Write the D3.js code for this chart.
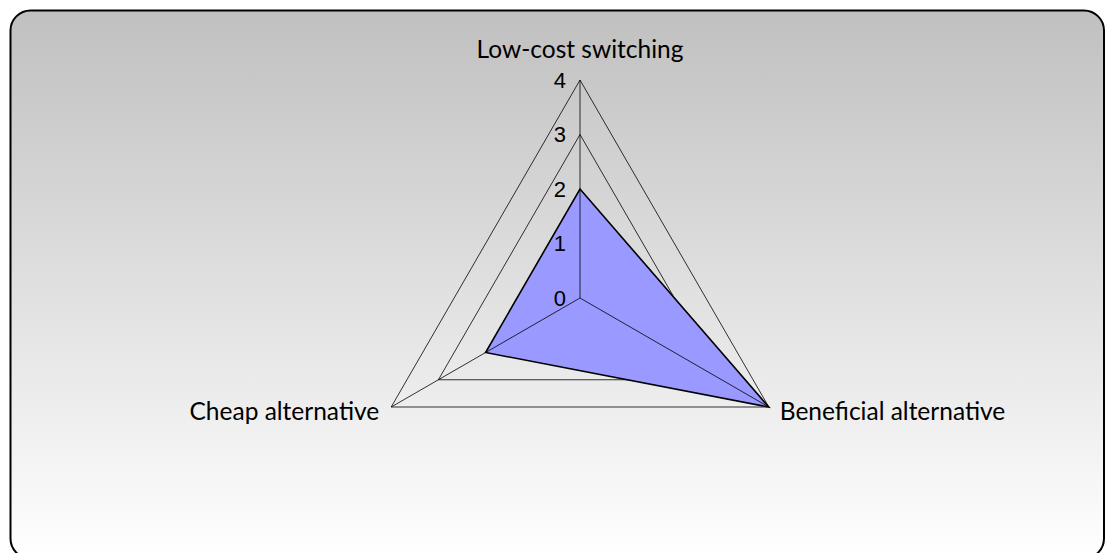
<!DOCTYPE html>
<html>
<head>
<meta charset="utf-8">
<script src="https://cdn.jsdelivr.net/npm/d3@7"></script>
<style>
  body { margin: 0; background: #fff; overflow: hidden; }
  svg { display: block; }
</style>
</head>
<body>
<div id="chart"></div>
<script>
// radar chart - three categories, one series
var categories = ["Low-cost switching", "Beneficial alternative", "Cheap alternative"];
var values = [2, 4, 2];
var tickValues = [0, 1, 2, 3, 4];

var svgWidth = 1105;
var svgHeight = 553;

var cx = 580;
var cy = 298;
var radius = 218;

var svg = d3.select("#chart")
  .append("svg")
  .attr("width", svgWidth)
  .attr("height", svgHeight);

// background gradient, grey to white
var grad = svg.append("defs").append("linearGradient")
  .attr("id", "bg")
  .attr("x1", 0).attr("y1", 0)
  .attr("x2", 0).attr("y2", 1);
grad.append("stop").attr("offset", "0%").attr("stop-color", "#c0c0c0");
grad.append("stop").attr("offset", "100%").attr("stop-color", "#ffffff");

svg.append("rect")
  .attr("x", 10.5)
  .attr("y", 10.5)
  .attr("width", 1093.5)
  .attr("height", 548)
  .attr("rx", 20)
  .attr("ry", 20)
  .attr("fill", "url(#bg)")
  .attr("stroke", "#000")
  .attr("stroke-width", 2);

var rScale = d3.scaleLinear()
  .domain([0, d3.max(tickValues)])
  .range([0, radius]);

var angleScale = d3.scaleLinear()
  .domain([0, categories.length])
  .range([0, 2 * Math.PI]);

function point(i, v) {
  var a = angleScale(i);
  return [cx + rScale(v) * Math.sin(a), cy - rScale(v) * Math.cos(a)];
}

var chartGroup = svg.append("g");

// grid rings (triangles)
chartGroup.selectAll(".ring")
  .data(tickValues.filter(function(t) { return t > 0; }))
  .enter()
  .append("polygon")
  .attr("class", "ring")
  .attr("points", function(t) {
    return categories.map(function(c, i) { return point(i, t).join(","); }).join(" ");
  })
  .attr("fill", "none")
  .attr("stroke", "#000")
  .attr("stroke-width", 0.8);

// data area
chartGroup.append("polygon")
  .attr("points", values.map(function(v, i) { return point(i, v).join(","); }).join(" "))
  .attr("fill", "#9999ff")
  .attr("stroke", "#000")
  .attr("stroke-width", 1.6)
  .attr("stroke-linejoin", "miter");

// spokes
chartGroup.selectAll(".spoke")
  .data(categories)
  .enter()
  .append("line")
  .attr("x1", cx)
  .attr("y1", cy)
  .attr("x2", function(d, i) { return point(i, d3.max(tickValues))[0]; })
  .attr("y2", function(d, i) { return point(i, d3.max(tickValues))[1]; })
  .attr("stroke", "#000")
  .attr("stroke-width", 0.8);

// tick labels on the vertical axis
chartGroup.selectAll(".tick")
  .data(tickValues)
  .enter()
  .append("text")
  .attr("x", cx - 14)
  .attr("y", function(d) { return cy - rScale(d); })
  .attr("dy", "0.36em")
  .attr("text-anchor", "end")
  .style("font-family", "Liberation Sans, Arial, sans-serif")
  .style("font-size", "22px")
  .attr("fill", "#000")
  .text(function(d) { return d; });

// category labels (baseline offsets from the outer vertex)
var labelPos = [
  { dx: 0, dy: -22, anchor: "middle" },
  { dx: 11, dy: 13, anchor: "start" },
  { dx: -12, dy: 13, anchor: "end" }
];
chartGroup.selectAll(".cat")
  .data(categories)
  .enter()
  .append("text")
  .attr("x", function(d, i) { return point(i, d3.max(tickValues))[0] + labelPos[i].dx; })
  .attr("y", function(d, i) { return point(i, d3.max(tickValues))[1] + labelPos[i].dy; })
  .attr("text-anchor", function(d, i) { return labelPos[i].anchor; })
  .style("font-family", "Lato, sans-serif")
  .style("font-size", "24.5px")
  .attr("fill", "#000")
  .text(function(d) { return d; });
</script>
</body>
</html>
